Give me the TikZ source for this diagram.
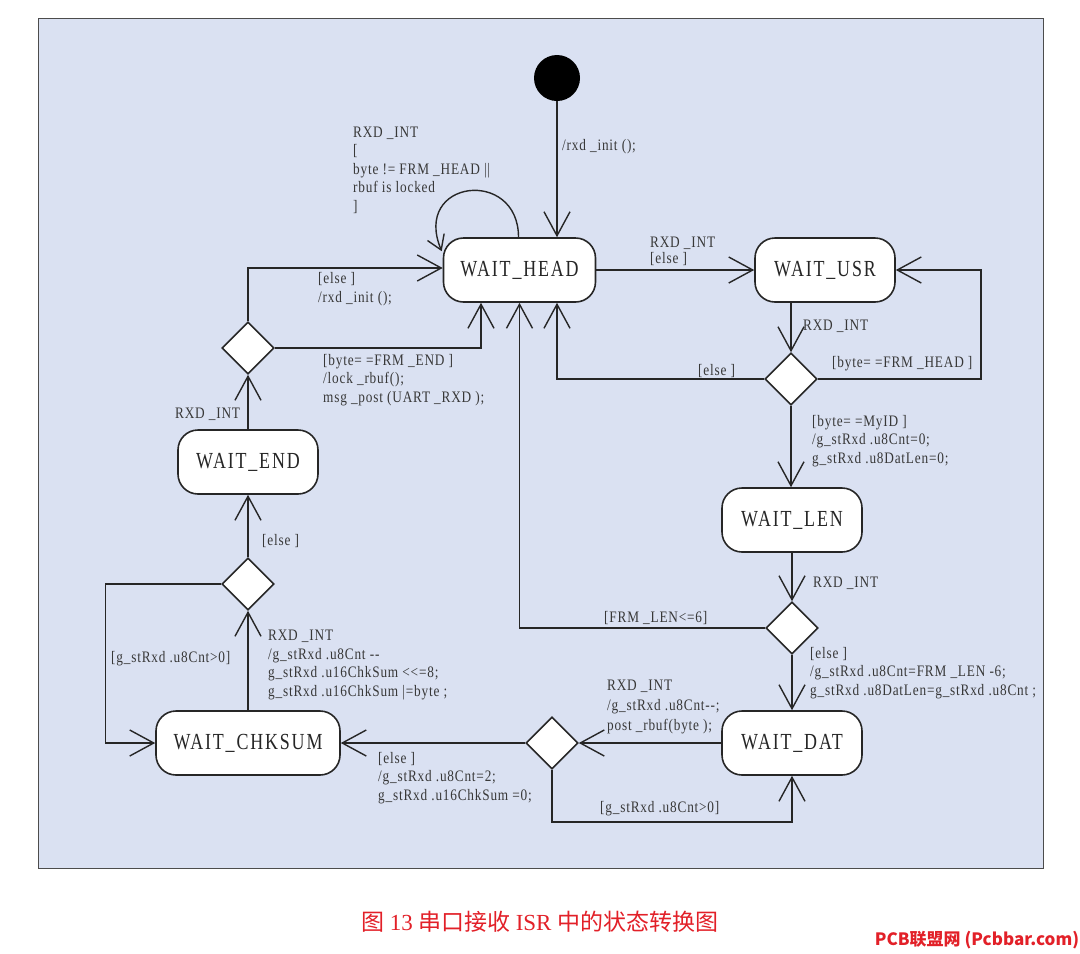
\documentclass[tikz,border=0pt]{standalone}
\usepackage{fontspec}
\setmainfont{Liberation Serif}
\newfontfamily\statefont[FakeStretch=0.78,LetterSpace=8]{Liberation Serif}
\newfontfamily\lblfont[FakeStretch=0.83,LetterSpace=5]{Liberation Serif}
\newfontfamily\cjk{Noto Sans CJK SC}
\usetikzlibrary{arrows.meta,shapes.geometric}
\definecolor{panelblue}{RGB}{218,225,242}
\definecolor{capred}{RGB}{226,32,40}

\begin{document}
\begin{tikzpicture}[x=1pt,y=-1pt,
        state/.style={draw=black!85,line width=1.6pt,fill=white,rounded corners=20pt,
            minimum height=64pt,inner sep=0pt,text=black!85,font=\statefont\fontsize{23}{28}\selectfont},
        choice/.style={diamond,draw=black!85,line width=1.6pt,fill=white,
            minimum width=52pt,minimum height=52pt,inner sep=0pt},
        lbl/.style={anchor=base west,align=left,inner sep=0pt,text=black!78,
            font=\lblfont\fontsize{16}{18.5}\selectfont},
        arr/.style={line width=1.4pt,draw=black!85,-{Straight Barb[length=24pt,width=26pt]}}]
        \useasboundingbox (0,0) rectangle (1080,954);
        \fill[panelblue,draw=black!70,line width=1pt] (38,18) rectangle (1043,868);
        % 状态
        \node[circle,fill=black,minimum size=46pt,inner sep=0pt] (init) at (557,78) {};
        \node[state,minimum width=152pt] (head) at (519.5,270) {WAIT\_HEAD};
        \node[state,minimum width=140pt] (usr) at (825,270) {WAIT\_USR};
        \node[state,minimum width=140pt] (wend) at (248,462) {WAIT\_END};
        \node[state,minimum width=140pt] (len) at (792,520) {WAIT\_LEN};
        \node[state,minimum width=184pt] (chk) at (248,743) {WAIT\_CHKSUM};
        \node[state,minimum width=140pt] (dat) at (792,743) {WAIT\_DAT};
        % 判断
        \foreach \n/\x/\y in {dA/248/348, dB/791/379, dC/792/628, dD/552/743, dE/248/584}
        {
        \node[choice] (\n) at (\x,\y) {};
        }
        % 转换
        \draw[arr] (init) -- (init |- head.north);
        \draw[arr,-{Straight Barb[length=14pt,width=18pt]}] ([xshift=-1pt]head.north)
            .. controls +(0,-70) and +(-30,-72) .. ([xshift=-1pt,yshift=-14pt]head.north west);
        \draw[arr] (head) -- (usr);
        \draw[arr] (dB.north |- usr.south) -- (dB.north);
        \draw[arr] (dB.west) -| ([xshift=37.5pt]head.south);
        \draw[arr] (dB.east) -- ++(163,0) |- (usr.east);
        \draw[arr] (dB.south) -- (dB.south |- len.north);
        \draw[arr] (len) -- (dC);
        \draw[arr] (dC.west) -| (head.south);
        \draw[arr] (dC) -- (dat);
        \draw[arr] (dat) -- (dD);
        \draw[arr] (dD.south) -- ++(0,52) -| (dat.south);
        \draw[arr] (dD) -- (chk);
        \draw[arr] (chk) -- (dE);
        \draw[arr] (dE.west) -- ++(-116,0) |- (chk.west);
        \draw[arr] (dE) -- (wend);
        \draw[arr] (wend) -- (dA);
        \draw[arr] (dA.north) |- ([yshift=2pt]head.west);
        \draw[arr] (dA.east) -| ([xshift=-38.5pt]head.south);
        % 标注 (多行时按末行基线定位)
        \node[lbl] (tLoop) at (353,211) {RXD \_INT\\{[}\\byte != FRM \_HEAD ||\\rbuf is locked\\]};
        \node[lbl] (tInit) at (562,150) {/rxd \_init ();};
        \node[lbl,font=\lblfont\fontsize{16}{16}\selectfont] (tHU) at (650,263) {RXD \_INT\\{[}else ]};
        \node[lbl] (tUB) at (803,330) {RXD \_INT};
        \node[lbl] (tBH) at (832,367) {[byte= =FRM \_HEAD ]};
        \node[lbl] (tBE) at (698,375) {[else ]};
        \node[lbl] (tBL) at (812,463) {[byte= =MyID ]\\/g\_stRxd .u8Cnt=0;\\g\_stRxd .u8DatLen=0;};
        \node[lbl] (tLC) at (813,587) {RXD \_INT};
        \node[lbl] (tCH) at (604,622) {[FRM \_LEN<=6]};
        \node[lbl] (tCD) at (810,695) {[else ]\\/g\_stRxd .u8Cnt=FRM \_LEN -6;\\g\_stRxd .u8DatLen=g\_stRxd .u8Cnt ;};
        \node[lbl,font=\lblfont\fontsize{16}{20}\selectfont] (tDD) at (607,730) {RXD \_INT\\/g\_stRxd .u8Cnt-{}-;\\post \_rbuf(byte );};
        \node[lbl] (tDB) at (600,812) {[g\_stRxd .u8Cnt>0]};
        \node[lbl] (tDC) at (378,800) {[else ]\\/g\_stRxd .u8Cnt=2;\\g\_stRxd .u16ChkSum =0;};
        \node[lbl] (tCE) at (268,696) {RXD \_INT\\/g\_stRxd .u8Cnt -{}-\\g\_stRxd .u16ChkSum <<=8;\\g\_stRxd .u16ChkSum |=byte ;};
        \node[lbl] (tEC) at (111,662) {[g\_stRxd .u8Cnt>0]};
        \node[lbl] (tEW) at (262,545) {[else ]};
        \node[lbl] (tWA) at (175,418) {RXD \_INT};
        \node[lbl] (tAH) at (318,302) {[else ]\\/rxd \_init ();};
        \node[lbl] (tAB) at (323,402) {[byte= =FRM \_END ]\\/lock \_rbuf();\\msg \_post (UART \_RXD );};
        % 图题
        \node[text=capred,font=\fontsize{23}{28}\selectfont] (cap) at (540,922)
            {\cjk 图 \rmfamily 13 \cjk 串口接收 \rmfamily ISR \cjk 中的状态转换图};
        \node[text=capred,font=\cjk\bfseries\fontsize{17}{20}\selectfont] (mark) at (977,940)
            {PCB联盟网 (Pcbbar.com)};
\end{tikzpicture}
\end{document}
